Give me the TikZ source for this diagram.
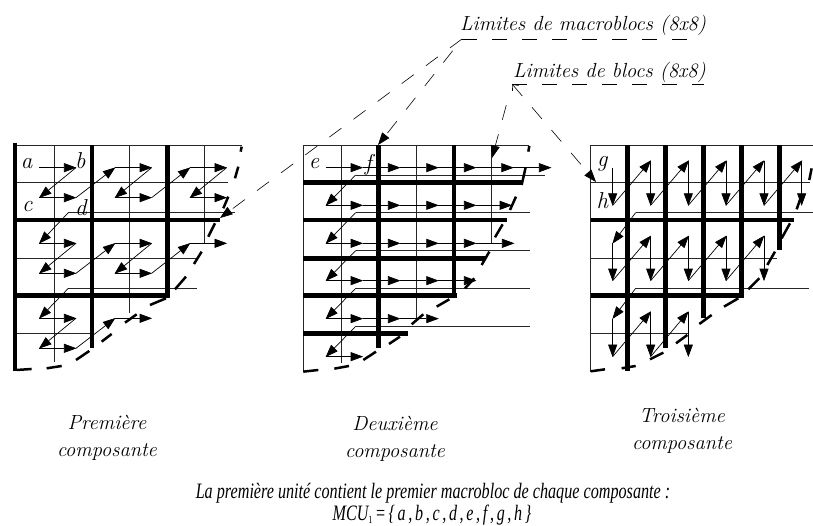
\documentclass[tikz,border=0pt]{standalone}
\usepackage{fontspec}
\usetikzlibrary{arrows.meta}
\newfontfamily\capfont{Liberation Serif}
\newcommand{\seglist}[2]{\foreach \a/\b/\c/\d in {#2}\draw[#1] (\a,\b)--(\c,\d);}
\tikzset{
  thinline/.style={line width=0.7pt,black!85},
  thickline/.style={line width=4.6pt,black},
  bound/.style={line width=2.5pt,black},
  scan/.style={line width=0.7pt,black,-{Triangle[length=12.5pt,width=9pt]},shorten >=-0.5pt},
  leader/.style={line width=0.6pt,black,dash pattern=on 15pt off 15pt},
  letter/.style={font=\itshape\fontsize{23}{23}\selectfont,inner sep=0pt},
  title/.style={font=\itshape\fontsize{20.5}{27}\selectfont,align=center,inner sep=0pt},
  heading/.style={font=\itshape\fontsize{20.4}{20}\selectfont,inner sep=0pt,anchor=base west},
  caption/.style={inner sep=0pt,anchor=base}
}
\begin{document}
\begin{tikzpicture}[x=1pt,y=-1pt]
\useasboundingbox (0,0) rectangle (813,525);
% ---------- first component
\begin{scope}[shift={(0,130)},x=0.3333pt,y=-0.3333pt]
  \seglist{thinline}{45/45/725/45,45/157/685/157,45/385/590/385,45/610/270/610,
    162/45/162/695,388/45/388/550,614/45/614/340,
    205/248/705/248,205/475/590/475}
  \seglist{thickline}{45/270/660/270,45/497/508/497,
    45/38/45/722,276/45/276/655,502/45/502/503}
  \seglist{bound}{725/50/722/65,715/110/705/145,685/200/670/235,645/280/625/320,605/365/582/402,
    558/440/525/478,498/505/450/525,410/553/375/578,335/612/305/635,268/663/228/690,185/708/140/715,95/717/50/720}
  \foreach \x/\y in {118/113,345/113,570/113,118/340,345/340,118/565}{
    \draw[scan] (\x,\y) -- ++(110,0);
    \draw[scan] (\x+110,\y) -- ++(-110,90);
    \draw[scan] (\x,\y+90) -- ++(110,0);
  }
  \seglist{scan}{228/203/345/113,455/203/570/113,205/248/118/340,228/430/345/340,
    455/430/570/340,570/340/680/340,205/475/118/565,228/655/345/565,345/565/455/565}
  \node[letter] (a) at (80,100) {a};
  \node[letter] (b) at (241,92) {b};
  \node[letter] (c) at (82,230) {c};
  \node[letter] (d) at (243,232) {d};
\end{scope}
% ---------- second component
\begin{scope}[shift={(290,130)},x=0.3333pt,y=-0.3333pt]
  \seglist{thinline}{40/45/718/45,40/45/40/725,153/45/153/700,380/45/380/570,605/45/605/340,
    197/135/765/135,197/248/720/248,197/362/720/362,197/475/720/475,197/589/720/589}
  \seglist{thickline}{40/157/695/157,40/270/650/270,40/385/585/385,40/497/500/497,40/611/355/611,
    265/45/265/655,492/45/492/503}
  \seglist{bound}{718/48/715/65,707/112/695/165,678/200/660/240,638/283/615/322,598/365/575/405,
    553/445/525/475,478/508/440/530,400/553/365/583,330/620/297/642,258/665/220/690,177/708/133/716,85/720/40/725}
  \seglist{scan}{108/113/218/113,218/113/330/113,330/113/445/113,445/113/558/113,558/113/670/113,670/113/783/113,
    108/226/218/226,218/226/330/226,330/226/445/226,445/226/558/226,558/226/665/226,
    108/340/218/340,218/340/330/340,330/340/445/340,445/340/558/340,558/340/672/340,
    108/452/218/452,218/452/330/452,330/452/445/452,445/452/558/452,
    108/566/218/566,218/566/330/566,330/566/445/566,
    108/680/218/680,
    197/135/108/226,197/248/108/340,197/362/108/452,197/475/108/566,197/589/108/680}
  \node[letter] (e) at (72,100) {e};
  \node[letter] (f) at (235,103) {f};
\end{scope}
% ---------- third component
\begin{scope}[shift={(570,130)},x=0.3333pt,y=-0.3333pt]
  \seglist{thinline}{62/45/729/45,62/45/62/725,62/157/720/157,62/385/620/385,62/611/355/611,
    197/248/729/248,197/475/718/475}
  \seglist{thickline}{62/270/672/270,62/497/520/497,
    173/45/173/722,287/45/287/655,400/45/400/565,514/45/514/503,628/45/628/360}
  \seglist{bound}{725/115/718/150,695/195/680/238,660/280/635/325,615/365/592/405,568/445/535/478,
    505/505/462/530,425/555/388/582,352/615/318/640,280/668/240/688,197/708/155/715,105/718/62/724}
  \foreach \x in {128,242,355,468,582,695}\draw[scan] (\x,{\x==128?113:92}) -- (\x,226);
  \foreach \x in {128,242,355,468,582}\draw[scan] (\x,226) -- (\x+114,92);
  \foreach \x in {242,355,468,582}\draw[scan] (\x,318) -- (\x,452);
  \draw[scan] (128,340) -- (128,452);
  \foreach \x in {128,242,355,468}\draw[scan] (\x,452) -- (\x+114,318);
  \seglist{scan}{197/248/128/340,197/475/128/566,128/566/128/680,128/680/242/545,242/545/242/680,242/680/355/545,355/545/355/680}
  \node[letter] (g) at (97,100) {g};
  \node[letter] (h) at (97,212) {h};
\end{scope}
% ---------- labels and leaders
\node[heading] (macro) at (460,30) {Limites de macroblocs (8x8)};
\node[heading] (bloc) at (513,77) {Limites de blocs (8x8)};
\coordinate (mj) at (462,39);
\coordinate (mend) at (692,39);
\coordinate (bj) at (512,84);
\coordinate (bend) at (704,84);
\coordinate (t1) at (220,218);
\coordinate (t2) at (378,145);
\coordinate (t3) at (492,158);
\coordinate (t4) at (596,182);
\draw[leader] (mj) -- (mend);
\draw[leader] (bj) -- (bend);
\draw[leader,-{Triangle[length=12.5pt,width=9pt]}] (mj) -- (t1);
\draw[leader,dash phase=15pt,-{Triangle[length=12.5pt,width=9pt]}] (mj) -- (t2);
\draw[leader,shorten <=22pt,-{Triangle[length=12.5pt,width=9pt]}] (bj) -- (t3);
\draw[leader,{Straight Barb[length=5pt,width=8pt]}-{Triangle[length=12.5pt,width=9pt]}] (bj) -- (t4);
\node[title] (p1) at (107,438) {Première\\composante};
\node[title] (p2) at (395,439) {Deuxième\\composante};
\node[title] (p3) at (682,431) {Troisième\\composante};
\node[caption] (cap1) at (433,498) {\capfont\itshape\fontsize{22}{22}\selectfont\scalebox{0.735}[1]{La première unité contient le premier macrobloc de chaque composante :}};
\node[caption] (cap2) at (432,520) {\capfont\itshape\fontsize{22}{22}\selectfont\scalebox{0.73}[1]{MCU\raisebox{-3pt}{\fontsize{11}{11}\selectfont\upshape 1}\,=\,\{\,a\,,\,b\,,\,c\,,\,d\,,\,e\,,\,f\,,\,g\,,\,h\,\}}};
\end{tikzpicture}
\end{document}
